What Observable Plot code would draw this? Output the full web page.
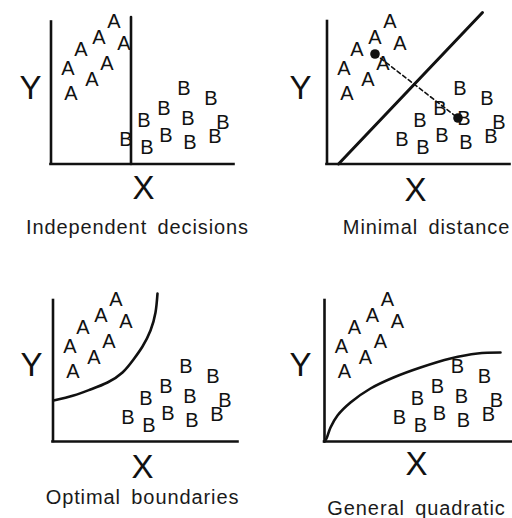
<!DOCTYPE html>
<html>
<head>
<meta charset="utf-8">
<script src="https://cdn.jsdelivr.net/npm/d3@7"></script>
<script src="https://cdn.jsdelivr.net/npm/@observablehq/plot@0.6"></script>
<style>
  html, body { margin: 0; padding: 0; background: #fff; }
  #chart { position: relative; width: 512px; height: 518px; overflow: hidden; }
  #chart svg { position: absolute; }
</style>
</head>
<body>
<div id="chart"></div>
<script>
// ---- data (units: px right of the Y axis / px above the X axis) ----
const A_x = [63, 48, 73, 30, 56, 17, 41, 20];
const A_y = [142, 126, 120, 114, 100, 95, 84, 70];
const B_x = [133, 160, 113, 93, 137, 172, 75, 115, 96, 139, 164];
const B_y = [75, 65, 55, 43, 45, 41, 24, 28, 16, 21, 27];

const split_x = [80, 80];
const split_y = [0, 147];
const linear_x = [11.5, 155.5];
const linear_y = [0, 151.5];
const means_x = [48, 131];
const means_y = [110, 46];
const optimal_x = [0.5, 20.5, 37.5, 54.5, 69.5, 80.5, 89.5, 97.5, 102.5, 104.5];
const optimal_y = [41, 46, 52, 59, 69, 82, 95, 111, 129, 148];
const quad_x = [0, 2, 6, 13, 26, 46, 69, 96, 126, 153, 176];
const quad_y = [0, 3, 14, 26, 39, 53, 64, 74, 83, 88, 89];

const captions = ["Independent decisions", "Minimal distance", "Optimal boundaries", "General quadratic"];
const axisLabels = ["X", "Y"];

// ---- layout ----
const FONT = "'Liberation Sans', Arial, Helvetica, sans-serif";
const W = 256, H = 259;
const panels = [
  {left: 0,   top: 0,   ox: 50.5, oy: 163.5, yTop: 142,   xEnd: 183, Y: [-20.5, 75.5], X: [92.5, -24.5], cap: [86.5, -69.5]},
  {left: 256, top: 0,   ox: 70.5, oy: 163.5, yTop: 142.5, xEnd: 183, Y: [-26.5, 75.5], X: [88.5, -26.5], cap: [99.5, -69.5]},
  {left: 0,   top: 259, ox: 52.5, oy: 182,   yTop: 141,   xEnd: 185, Y: [-21.5, 76],   X: [89.5, -26],   cap: [89.5, -62]},
  {left: 256, top: 259, ox: 68,   oy: 182,   yTop: 141,   xEnd: 190, Y: [-24, 76],     X: [92, -23],     cap: [92, -73]}
];

const pts = (xs, ys) => xs.map((x, i) => ({x, y: ys[i]}));
const Apts = pts(A_x, A_y);
const Bpts = pts(B_x, B_y);

function boundaryMarks(i) {
  const sw = 2.6;
  if (i === 0) return [Plot.line(pts(split_x, split_y), {x: "x", y: "y", stroke: "#111", strokeWidth: sw})];
  if (i === 1) return [
    Plot.line(pts(linear_x, linear_y), {x: "x", y: "y", stroke: "#111", strokeWidth: 3}),
    Plot.line(pts(means_x, means_y), {x: "x", y: "y", stroke: "#111", strokeWidth: 1.6, strokeDasharray: "4,3"}),
    Plot.dot(pts(means_x, means_y), {x: "x", y: "y", r: 4.8, fill: "#111", stroke: "none"})
  ];
  if (i === 2) return [Plot.line(pts(optimal_x, optimal_y), {x: "x", y: "y", stroke: "#111", strokeWidth: sw, curve: "natural"})];
  return [Plot.line(pts(quad_x, quad_y), {x: "x", y: "y", stroke: "#111", strokeWidth: sw, curve: "catmull-rom"})];
}

const chart = document.getElementById("chart");
panels.forEach((p, i) => {
  const svg = Plot.plot({
    width: W, height: H,
    marginLeft: 0, marginRight: 0, marginTop: 0, marginBottom: 0,
    x: {domain: [-p.ox, W - p.ox], axis: null},
    y: {domain: [-(H - p.oy), p.oy], axis: null},
    style: {fontFamily: FONT, background: "transparent", overflow: "visible"},
    marks: [
      Plot.ruleY([0], {x1: 0, x2: p.xEnd, stroke: "#111", strokeWidth: 2.6, strokeLinecap: "square"}),
      Plot.ruleX([0], {y1: 0, y2: p.yTop, stroke: "#111", strokeWidth: 2.6, strokeLinecap: "square"}),
      ...boundaryMarks(i),
      Plot.text(Apts, {x: "x", y: "y", text: () => "A", fontSize: 20, fill: "#111", lineAnchor: "middle"}),
      Plot.text(Bpts, {x: "x", y: "y", text: () => "B", fontSize: 20, fill: "#111", lineAnchor: "middle"}),
      Plot.text([axisLabels[0]], {x: p.X[0], y: p.X[1], text: d => d, fontSize: 33, fill: "#111", lineAnchor: "middle"}),
      Plot.text([axisLabels[1]], {x: p.Y[0], y: p.Y[1], text: d => d, fontSize: 33, fill: "#111", lineAnchor: "middle"}),
      Plot.text([captions[i]], {x: p.cap[0], y: p.cap[1], text: d => d, fontSize: 20, fill: "#1a1a1a", lineAnchor: "bottom"})
    ]
  });
  d3.select(svg).selectAll("text")
    .filter(function () { return this.textContent === captions[i]; })
    .attr("letter-spacing", "0.9px")
    .attr("word-spacing", "4px")
    .style("letter-spacing", "0.9px")
    .style("word-spacing", "4px");
  svg.style.left = p.left + "px";
  svg.style.top = p.top + "px";
  chart.appendChild(svg);
});
</script>
</body>
</html>
